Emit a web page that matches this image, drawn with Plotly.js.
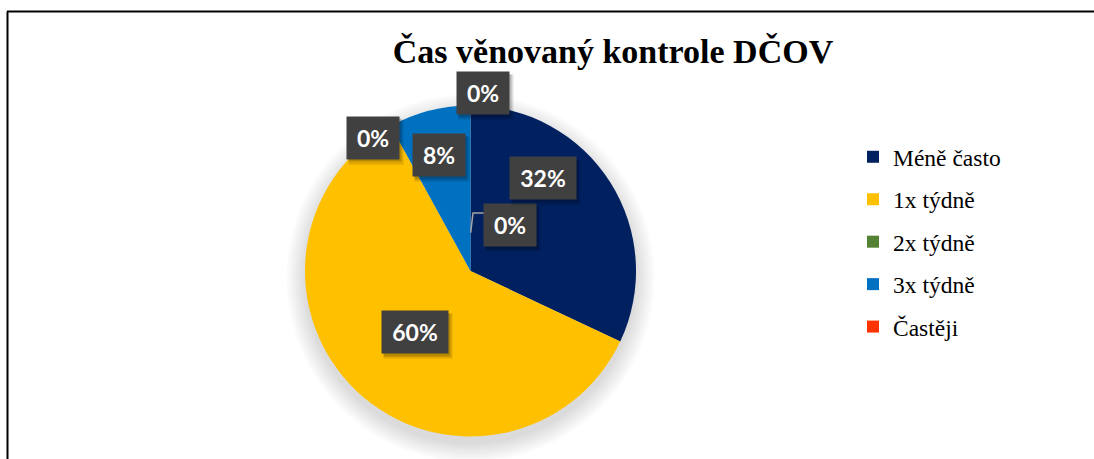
<!DOCTYPE html>
<html>
<head>
<meta charset="utf-8">
<script src="https://cdn.plot.ly/plotly-3.0.1.min.js"></script>
<style>
  html, body { margin: 0; padding: 0; background: #fff; }
  #chart { width: 1094px; height: 459px; }
</style>
</head>
<body>
<div id="chart"></div>
<script>
// ---- data ----
const categories = ["Méně často", "1x týdně", "2x týdně", "3x týdně", "Častěji"];
const values = [32, 60, 0, 8, 0];
const colors = ["#002060", "#FFC000", "#548235", "#0070C0", "#FF3300"];
const chartTitle = "Čas věnovaný kontrole DČOV";

// ---- layout helpers (pixel -> paper) ----
const W = 1094, H = 459;
const px = x => x / W;
const py = y => 1 - y / H;

// label box placement (pixel centres and widths), same order as categories
const labelPos = [
  {x: 543, y: 178.5, w: 64},
  {x: 415, y: 332, w: 64},
  {x: 510, y: 225, w: 50},
  {x: 439, y: 155, w: 50},
  {x: 483, y: 93, w: 50}
];
const extraZeroLabel = {x: 373, y: 137.5, w: 50}; // zero label at yellow/blue edge

const total = values.reduce((a, b) => a + b, 0);
const pct = values.map(v => Math.round(v / total * 100) + "%");

const cx = 470.5, cy = 271, R = 165.5;

const traces = [{
  type: "pie",
  labels: categories,
  values: values,
  marker: {colors: colors, line: {width: 0}},
  sort: false,
  direction: "clockwise",
  rotation: 0,
  textinfo: "none",
  hoverinfo: "label+percent",
  showlegend: false,
  domain: {x: [px(cx - R), px(cx + R)], y: [py(cy + R), py(cy - R)]}
}];

// legend entries (one per category)
categories.forEach((c, i) => {
  traces.push({
    type: "scatter",
    x: [null], y: [null],
    mode: "markers",
    name: c,
    legendgroup: "g" + i,
    marker: {symbol: "square", size: 12, color: colors[i]},
    hoverinfo: "skip",
    showlegend: true
  });
});

const annotations = [];
function addLabel(p, text) {
  annotations.push({
    xref: "paper", yref: "paper",
    x: px(p.x + 3), y: py(p.y + 4),
    xanchor: "center", yanchor: "middle",
    text: " ", showarrow: false,
    width: p.w + 2, height: 42,
    bgcolor: "rgba(0,0,0,0.12)"
  });
  annotations.push({
    xref: "paper", yref: "paper",
    x: px(p.x + 2), y: py(p.y + 3),
    xanchor: "center", yanchor: "middle",
    text: " ", showarrow: false,
    width: p.w, height: 40,
    bgcolor: "rgba(0,0,0,0.18)"
  });
  annotations.push({
    xref: "paper", yref: "paper",
    x: px(p.x), y: py(p.y),
    xanchor: "center", yanchor: "middle",
    text: "<b>" + text + "</b>", showarrow: false,
    width: p.w, height: 40,
    bgcolor: "#404040",
    font: {family: "Lato, 'Open Sans', sans-serif", size: 23, color: "#ffffff"}
  });
}
addLabel(labelPos[2], pct[2]);
addLabel(labelPos[4], pct[4]);
addLabel(extraZeroLabel, pct[2]);
addLabel(labelPos[3], pct[3]);
addLabel(labelPos[0], pct[0]);
addLabel(labelPos[1], pct[1]);

const shapes = [];
// soft shadow around the pie
for (let k = 0; k < 9; k++) {
  const r = R + 1 + k * 2.2;
  const scy = cy + 7;
  shapes.push({
    type: "circle", xref: "paper", yref: "paper", layer: "below",
    x0: px(cx - r), x1: px(cx + r), y0: py(scy + r), y1: py(scy - r),
    fillcolor: "rgba(0,0,0,0.016)", line: {width: 0}
  });
}
// leader line for centre 0% label
shapes.push({
  type: "path", xref: "paper", yref: "paper",
  path: `M ${px(470.7)} ${py(232.7)} L ${px(473)} ${py(213)} L ${px(485)} ${py(213)}`,
  line: {color: "#A6A6A6", width: 1.5}
});
// chart frame
shapes.push({type: "line", xref: "paper", yref: "paper",
  x0: px(7), x1: 1.01, y0: py(11.5), y1: py(11.5), line: {color: "#000", width: 2}});
shapes.push({type: "line", xref: "paper", yref: "paper",
  x0: px(7.5), x1: px(7.5), y0: -0.01, y1: py(11.5), line: {color: "#000", width: 2}});

const layout = {
  width: W, height: H,
  margin: {l: 0, r: 0, t: 0, b: 0},
  paper_bgcolor: "#ffffff",
  plot_bgcolor: "#ffffff",
  title: {
    text: "<b>" + chartTitle + "</b>",
    font: {family: "'Liberation Serif', 'Times New Roman', serif", size: 34, color: "#000"},
    x: px(613), xanchor: "center", xref: "paper",
    y: py(51), yanchor: "middle", yref: "paper"
  },
  xaxis: {visible: false, range: [0, 1], fixedrange: true},
  yaxis: {visible: false, range: [0, 1], fixedrange: true},
  showlegend: true,
  legend: {
    x: px(853), y: py(135), xanchor: "left", yanchor: "top",
    font: {family: "'Liberation Serif', 'Times New Roman', serif", size: 23.5, color: "#000"},
    tracegroupgap: 8.9,
    bgcolor: "rgba(0,0,0,0)",
    borderwidth: 0
  },
  annotations: annotations,
  shapes: shapes
};

Plotly.newPlot("chart", traces, layout, {displayModeBar: false, staticPlot: true});
</script>
</body>
</html>
